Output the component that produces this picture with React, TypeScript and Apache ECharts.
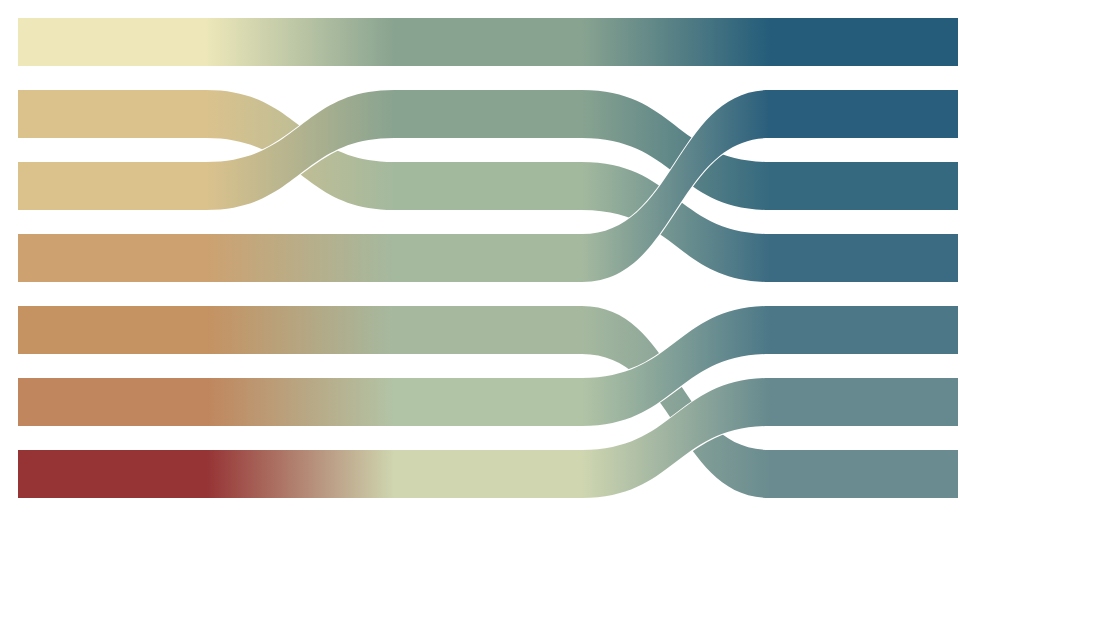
import { useEffect, useRef } from 'react';
import * as echarts from 'echarts';

// three ranking stages, seven places each (top to bottom)
const stageA = ['a1', 'a2', 'a3', 'a4', 'a5', 'a6', 'a7'];
const stageB = ['b1', 'b2', 'b3', 'b4', 'b5', 'b6', 'b7'];
const stageC = ['c1', 'c2', 'c3', 'c4', 'c5', 'c6', 'c7'];

const colorsA = ['#EDE7B9', '#DBC28D', '#DBC28D', '#CDA170', '#C59262', '#C0865D', '#963334'];
const colorsB = ['#88A390', '#88A390', '#A3B99E', '#A5B99F', '#A6B99F', '#B2C4A6', '#CFD6B0'];
const colorsC = ['#245C7A', '#295E7C', '#35697F', '#3B6B82', '#4B7787', '#65898E', '#6A8C90'];

// [source, target, value] — later links draw on top
const links: [string, string, number][] = [
  ['a1', 'b1', 1],
  ['a2', 'b3', 1],
  ['a3', 'b2', 1],
  ['a4', 'b4', 1],
  ['a5', 'b5', 1],
  ['a6', 'b6', 1],
  ['a7', 'b7', 1],
  ['b1', 'c1', 1],
  ['b2', 'c3', 1],
  ['b3', 'c4', 1],
  ['b4', 'c2', 1],
  ['b5', 'c7', 1],
  ['b6', 'c5', 1],
  ['b7', 'c6', 1],
];

export default function App() {
  const chartRef = useRef<HTMLDivElement>(null);

  useEffect(() => {
    if (!chartRef.current) return;
    const chart = echarts.init(chartRef.current, undefined, { renderer: 'svg' });
    const nodes = [
      ...stageA.map((n, i) => ({ name: n, itemStyle: { color: colorsA[i] } })),
      ...stageB.map((n, i) => ({ name: n, itemStyle: { color: colorsB[i] } })),
      ...stageC.map((n, i) => ({ name: n, itemStyle: { color: colorsC[i] } })),
    ];
    chart.setOption({
      animation: false,
      series: [
        {
          type: 'sankey',
          left: 18, top: 18, right: 160, bottom: 124,
          nodeWidth: 188,
          nodeGap: 24,
          layoutIterations: 0,
          draggable: false,
          silent: true,
          emphasis: { disabled: true },
          label: { show: false },
          itemStyle: { borderWidth: 0 },
          // white edge only shows where a link passes over another (stroke painted under fill, see css)
          lineStyle: { color: 'gradient', opacity: 1, curveness: 0.5, borderColor: '#fff', borderWidth: 2 },
          data: nodes,
          links: links.map(([s, t, v]) => ({ source: s, target: t, value: v })),
        },
      ],
    });
    return () => chart.dispose();
  }, []);

  return (
    <>
      <style>{'.bump path { paint-order: stroke fill; }'}</style>
      <div className="bump" ref={chartRef} style={{ width: 1118, height: 622, margin: -8 }} />
    </>
  );
}
